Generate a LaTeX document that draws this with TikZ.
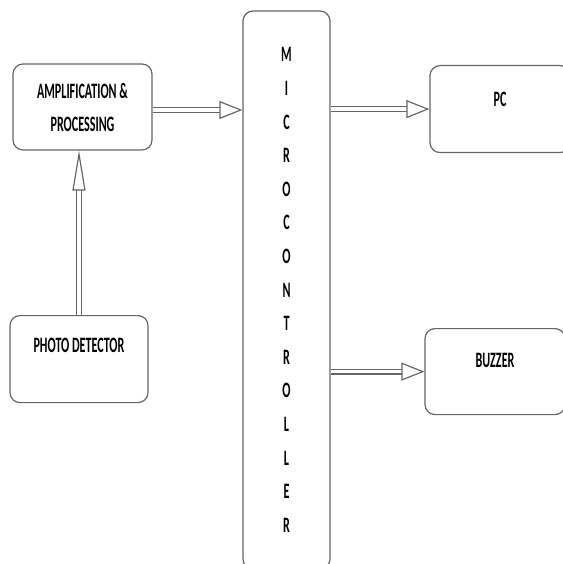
\documentclass[tikz,border=0pt]{standalone}
\usepackage{fontspec}
\setmainfont{Carlito}[FakeStretch=0.55]
\usetikzlibrary{arrows.meta}

\begin{document}
\begin{tikzpicture}[x=1pt,y=-1pt,
  blk/.style={draw=black!60,line width=1.2pt,rounded corners=10pt,fill=white,
    font=\bfseries\fontsize{22}{33}\selectfont,text=black,inner sep=0pt},
  harrow/.style={draw=black!60,line width=1.2pt,double=white,double distance=3.5pt,
    -{Triangle[open,length=23pt,width=18pt]}},
  varrow/.style={draw=black!60,line width=1.2pt,double=white,double distance=3.5pt,
    -{Triangle[open,length=40pt,width=13pt]}}]
\useasboundingbox (0,0) rectangle (562,564);

% blocks
\node[blk,minimum width=139pt,minimum height=86pt,align=center] (amp) at (82.5,107) {AMPLIFICATION \&\\PROCESSING};
\node[blk,minimum width=138pt,text height=37pt,text depth=50pt,anchor=north] (pd) at (79,315) {PHOTO DETECTOR};
\node[blk,minimum width=87pt,minimum height=558pt,align=center,
  font=\bfseries\fontsize{22}{33.6}\selectfont] (mcu) at (286.5,290)
  {M\\I\\C\\R\\O\\C\\O\\N\\T\\R\\O\\L\\L\\E\\R};
\node[blk,minimum width=140pt,text height=41pt,text depth=46pt,anchor=north] (pc) at (500,65) {PC};
\node[blk,minimum width=140pt,text height=39pt,text depth=47pt,anchor=north] (bz) at (495,328) {BUZZER};

% links
\draw[varrow] (pd.north) -- (pd.north |- amp.south);
\draw[harrow] ([yshift=-3pt]amp.east) -- ([yshift=-3pt]amp.east -| mcu.west);
\draw[harrow] (mcu.east |- pc.west) -- (pc.west);
\draw[harrow] (mcu.east |- bz.west) -- (bz.west);
\end{tikzpicture}
\end{document}
